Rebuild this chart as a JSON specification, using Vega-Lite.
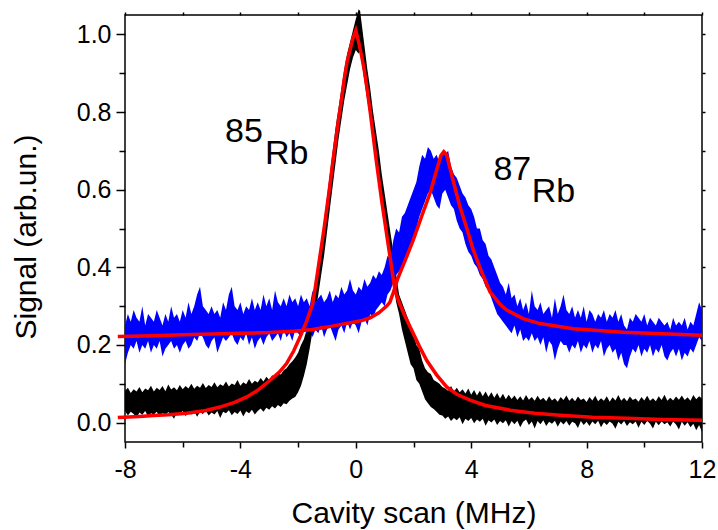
{
"$schema": "https://vega.github.io/schema/vega-lite/v6.json",
"width": 577, "height": 427,
"autosize": {"type": "none"},
"padding": {"left": 125, "top": 15, "right": 16, "bottom": 88},
"background": "white",
"config": {
 "view": {"stroke": "black", "strokeWidth": 1.5},
 "font": "Liberation Sans",
 "axis": {"domain": false, "grid": false, "tickColor": "black", "tickWidth": 1.5, "labelColor": "black", "titleColor": "black", "labelFont": "Liberation Sans", "titleFont": "Liberation Sans", "titleFontWeight": "normal", "labelFlush": false, "labelOverlap": false}
},
"datasets": {
"black": [
{"x":-8.0,"lo":0.030,"hi":0.082},{"x":-7.9,"lo":0.018,"hi":0.090},{"x":-7.8,"lo":0.028,"hi":0.076},{"x":-7.7,"lo":0.022,"hi":0.086},{"x":-7.6,"lo":0.012,"hi":0.080},{"x":-7.5,"lo":0.026,"hi":0.092},{"x":-7.4,"lo":0.020,"hi":0.078},{"x":-7.3,"lo":0.030,"hi":0.088},{"x":-7.2,"lo":0.016,"hi":0.083},{"x":-7.1,"lo":0.024,"hi":0.095},
{"x":-7.0,"lo":0.021,"hi":0.080},{"x":-6.9,"lo":0.028,"hi":0.090},{"x":-6.8,"lo":0.014,"hi":0.084},{"x":-6.7,"lo":0.025,"hi":0.094},{"x":-6.6,"lo":0.019,"hi":0.081},{"x":-6.5,"lo":0.027,"hi":0.098},{"x":-6.4,"lo":0.020,"hi":0.085},{"x":-6.3,"lo":0.010,"hi":0.091},{"x":-6.2,"lo":0.026,"hi":0.083},{"x":-6.1,"lo":0.022,"hi":0.097},
{"x":-6.0,"lo":0.030,"hi":0.086},{"x":-5.9,"lo":0.017,"hi":0.094},{"x":-5.8,"lo":0.025,"hi":0.088},{"x":-5.7,"lo":0.021,"hi":0.100},{"x":-5.6,"lo":0.029,"hi":0.087},{"x":-5.5,"lo":0.015,"hi":0.095},{"x":-5.4,"lo":0.027,"hi":0.090},{"x":-5.3,"lo":0.022,"hi":0.102},{"x":-5.2,"lo":0.031,"hi":0.089},{"x":-5.1,"lo":0.018,"hi":0.097},
{"x":-5.0,"lo":0.026,"hi":0.092},{"x":-4.9,"lo":0.021,"hi":0.104},{"x":-4.8,"lo":0.030,"hi":0.091},{"x":-4.7,"lo":0.012,"hi":0.099},{"x":-4.6,"lo":0.028,"hi":0.094},{"x":-4.5,"lo":0.024,"hi":0.106},{"x":-4.4,"lo":0.032,"hi":0.093},{"x":-4.3,"lo":0.019,"hi":0.101},{"x":-4.2,"lo":0.027,"hi":0.097},{"x":-4.1,"lo":0.022,"hi":0.110},
{"x":-4.0,"lo":0.031,"hi":0.095},{"x":-3.9,"lo":0.016,"hi":0.104},{"x":-3.8,"lo":0.029,"hi":0.099},{"x":-3.7,"lo":0.024,"hi":0.112},{"x":-3.6,"lo":0.033,"hi":0.100},{"x":-3.5,"lo":0.021,"hi":0.108},{"x":-3.4,"lo":0.030,"hi":0.103},{"x":-3.3,"lo":0.036,"hi":0.115},{"x":-3.2,"lo":0.028,"hi":0.106},{"x":-3.1,"lo":0.038,"hi":0.118},
{"x":-3.0,"lo":0.033,"hi":0.110},{"x":-2.9,"lo":0.042,"hi":0.122},{"x":-2.8,"lo":0.036,"hi":0.117},{"x":-2.7,"lo":0.045,"hi":0.128},{"x":-2.6,"lo":0.040,"hi":0.124},{"x":-2.5,"lo":0.050,"hi":0.135},{"x":-2.4,"lo":0.047,"hi":0.140},{"x":-2.3,"lo":0.056,"hi":0.150},{"x":-2.2,"lo":0.062,"hi":0.158},{"x":-2.1,"lo":0.066,"hi":0.168},
{"x":-2.0,"lo":0.078,"hi":0.180},{"x":-1.9,"lo":0.095,"hi":0.200},{"x":-1.8,"lo":0.120,"hi":0.215},{"x":-1.7,"lo":0.150,"hi":0.240},{"x":-1.6,"lo":0.190,"hi":0.275},{"x":-1.5,"lo":0.235,"hi":0.310},{"x":-1.4,"lo":0.280,"hi":0.360},{"x":-1.3,"lo":0.330,"hi":0.410},{"x":-1.2,"lo":0.380,"hi":0.460},{"x":-1.1,"lo":0.430,"hi":0.520},
{"x":-1.0,"lo":0.490,"hi":0.580},{"x":-0.9,"lo":0.550,"hi":0.640},{"x":-0.8,"lo":0.610,"hi":0.700},{"x":-0.7,"lo":0.670,"hi":0.760},{"x":-0.6,"lo":0.730,"hi":0.810},{"x":-0.5,"lo":0.780,"hi":0.860},{"x":-0.4,"lo":0.830,"hi":0.910},{"x":-0.3,"lo":0.870,"hi":0.950},{"x":-0.2,"lo":0.910,"hi":0.980},{"x":-0.1,"lo":0.940,"hi":1.010},
{"x":0.0,"lo":0.960,"hi":1.040},{"x":0.1,"lo":0.950,"hi":1.065},{"x":0.15,"lo":0.970,"hi":1.060},{"x":0.2,"lo":0.930,"hi":1.030},{"x":0.3,"lo":0.880,"hi":0.970},{"x":0.4,"lo":0.830,"hi":0.910},{"x":0.5,"lo":0.780,"hi":0.860},{"x":0.6,"lo":0.720,"hi":0.800},{"x":0.7,"lo":0.670,"hi":0.750},{"x":0.8,"lo":0.620,"hi":0.700},{"x":0.9,"lo":0.560,"hi":0.640},
{"x":1.0,"lo":0.510,"hi":0.590},{"x":1.1,"lo":0.460,"hi":0.540},{"x":1.2,"lo":0.410,"hi":0.490},{"x":1.3,"lo":0.360,"hi":0.440},{"x":1.4,"lo":0.310,"hi":0.380},{"x":1.5,"lo":0.280,"hi":0.330},{"x":1.6,"lo":0.240,"hi":0.310},{"x":1.7,"lo":0.210,"hi":0.290},{"x":1.8,"lo":0.180,"hi":0.270},{"x":1.9,"lo":0.150,"hi":0.250},
{"x":2.0,"lo":0.140,"hi":0.230},{"x":2.1,"lo":0.110,"hi":0.200},{"x":2.2,"lo":0.100,"hi":0.190},{"x":2.3,"lo":0.080,"hi":0.160},{"x":2.4,"lo":0.060,"hi":0.140},{"x":2.5,"lo":0.050,"hi":0.130},{"x":2.6,"lo":0.040,"hi":0.125},{"x":2.7,"lo":0.035,"hi":0.110},{"x":2.8,"lo":0.028,"hi":0.105},{"x":2.9,"lo":0.020,"hi":0.100},
{"x":3.0,"lo":0.018,"hi":0.092},{"x":3.1,"lo":0.010,"hi":0.088},{"x":3.2,"lo":0.016,"hi":0.082},{"x":3.3,"lo":0.004,"hi":0.094},{"x":3.4,"lo":0.012,"hi":0.080},{"x":3.5,"lo":0.006,"hi":0.090},{"x":3.6,"lo":0.014,"hi":0.078},{"x":3.7,"lo":-0.004,"hi":0.086},{"x":3.8,"lo":0.010,"hi":0.075},{"x":3.9,"lo":0.004,"hi":0.088},
{"x":4.0,"lo":0.012,"hi":0.072},{"x":4.1,"lo":-0.002,"hi":0.084},{"x":4.2,"lo":0.008,"hi":0.070},{"x":4.3,"lo":0.002,"hi":0.082},{"x":4.4,"lo":0.010,"hi":0.068},{"x":4.5,"lo":-0.008,"hi":0.080},{"x":4.6,"lo":0.006,"hi":0.066},{"x":4.7,"lo":0.000,"hi":0.078},{"x":4.8,"lo":0.008,"hi":0.064},{"x":4.9,"lo":-0.006,"hi":0.076},
{"x":5.0,"lo":0.004,"hi":0.062},{"x":5.1,"lo":-0.002,"hi":0.074},{"x":5.2,"lo":0.006,"hi":0.060},{"x":5.3,"lo":-0.010,"hi":0.072},{"x":5.4,"lo":0.004,"hi":0.061},{"x":5.5,"lo":-0.004,"hi":0.070},{"x":5.6,"lo":0.005,"hi":0.058},{"x":5.7,"lo":-0.012,"hi":0.068},{"x":5.8,"lo":0.002,"hi":0.057},{"x":5.9,"lo":0.008,"hi":0.071},
{"x":6.0,"lo":-0.006,"hi":0.059},{"x":6.1,"lo":0.003,"hi":0.066},{"x":6.2,"lo":-0.015,"hi":0.056},{"x":6.3,"lo":0.004,"hi":0.069},{"x":6.4,"lo":-0.004,"hi":0.058},{"x":6.5,"lo":0.006,"hi":0.064},{"x":6.6,"lo":-0.009,"hi":0.055},{"x":6.7,"lo":0.002,"hi":0.068},{"x":6.8,"lo":-0.003,"hi":0.057},{"x":6.9,"lo":0.005,"hi":0.063},
{"x":7.0,"lo":-0.011,"hi":0.054},{"x":7.1,"lo":0.003,"hi":0.066},{"x":7.2,"lo":-0.005,"hi":0.058},{"x":7.3,"lo":0.004,"hi":0.070},{"x":7.4,"lo":-0.008,"hi":0.056},{"x":7.5,"lo":0.002,"hi":0.064},{"x":7.6,"lo":-0.002,"hi":0.055},{"x":7.7,"lo":-0.014,"hi":0.067},{"x":7.8,"lo":0.004,"hi":0.058},{"x":7.9,"lo":-0.006,"hi":0.062},
{"x":8.0,"lo":0.002,"hi":0.053},{"x":8.1,"lo":-0.009,"hi":0.066},{"x":8.2,"lo":0.003,"hi":0.057},{"x":8.3,"lo":-0.004,"hi":0.069},{"x":8.4,"lo":0.005,"hi":0.055},{"x":8.5,"lo":-0.012,"hi":0.063},{"x":8.6,"lo":0.001,"hi":0.056},{"x":8.7,"lo":-0.006,"hi":0.068},{"x":8.8,"lo":0.003,"hi":0.054},{"x":8.9,"lo":-0.003,"hi":0.065},
{"x":9.0,"lo":-0.016,"hi":0.057},{"x":9.1,"lo":0.002,"hi":0.071},{"x":9.2,"lo":-0.005,"hi":0.056},{"x":9.3,"lo":0.004,"hi":0.064},{"x":9.4,"lo":-0.009,"hi":0.055},{"x":9.5,"lo":0.001,"hi":0.067},{"x":9.6,"lo":-0.004,"hi":0.058},{"x":9.7,"lo":0.003,"hi":0.062},{"x":9.8,"lo":-0.013,"hi":0.054},{"x":9.9,"lo":0.002,"hi":0.066},
{"x":10.0,"lo":-0.006,"hi":0.057},{"x":10.1,"lo":0.004,"hi":0.069},{"x":10.2,"lo":-0.003,"hi":0.056},{"x":10.3,"lo":-0.015,"hi":0.063},{"x":10.4,"lo":0.002,"hi":0.055},{"x":10.5,"lo":-0.007,"hi":0.068},{"x":10.6,"lo":0.003,"hi":0.058},{"x":10.7,"lo":-0.004,"hi":0.072},{"x":10.8,"lo":0.001,"hi":0.056},{"x":10.9,"lo":-0.010,"hi":0.064},
{"x":11.0,"lo":0.003,"hi":0.057},{"x":11.1,"lo":-0.005,"hi":0.067},{"x":11.2,"lo":-0.018,"hi":0.059},{"x":11.3,"lo":0.002,"hi":0.070},{"x":11.4,"lo":-0.008,"hi":0.058},{"x":11.5,"lo":0.001,"hi":0.065},{"x":11.6,"lo":-0.012,"hi":0.056},{"x":11.7,"lo":-0.003,"hi":0.071},{"x":11.8,"lo":-0.020,"hi":0.060},{"x":11.9,"lo":-0.006,"hi":0.068},
{"x":12.0,"lo":-0.024,"hi":0.062}
],
"blue": [
{"x":-8.0,"lo":0.15,"hi":0.25},{"x":-7.9,"lo":0.18,"hi":0.28},{"x":-7.8,"lo":0.20,"hi":0.26},{"x":-7.7,"lo":0.19,"hi":0.29},{"x":-7.6,"lo":0.21,"hi":0.27},{"x":-7.5,"lo":0.18,"hi":0.26},{"x":-7.4,"lo":0.20,"hi":0.30},{"x":-7.3,"lo":0.19,"hi":0.25},{"x":-7.2,"lo":0.21,"hi":0.28},{"x":-7.1,"lo":0.18,"hi":0.27},
{"x":-7.0,"lo":0.20,"hi":0.26},{"x":-6.9,"lo":0.19,"hi":0.29},{"x":-6.8,"lo":0.21,"hi":0.27},{"x":-6.7,"lo":0.17,"hi":0.25},{"x":-6.6,"lo":0.19,"hi":0.28},{"x":-6.5,"lo":0.20,"hi":0.26},{"x":-6.4,"lo":0.21,"hi":0.30},{"x":-6.3,"lo":0.19,"hi":0.27},{"x":-6.2,"lo":0.20,"hi":0.28},{"x":-6.1,"lo":0.18,"hi":0.26},
{"x":-6.0,"lo":0.20,"hi":0.29},{"x":-5.9,"lo":0.21,"hi":0.27},{"x":-5.8,"lo":0.19,"hi":0.31},{"x":-5.7,"lo":0.20,"hi":0.28},{"x":-5.6,"lo":0.22,"hi":0.30},{"x":-5.5,"lo":0.21,"hi":0.33},{"x":-5.4,"lo":0.23,"hi":0.35},{"x":-5.3,"lo":0.22,"hi":0.30},{"x":-5.2,"lo":0.20,"hi":0.29},{"x":-5.1,"lo":0.19,"hi":0.28},
{"x":-5.0,"lo":0.21,"hi":0.30},{"x":-4.9,"lo":0.22,"hi":0.28},{"x":-4.8,"lo":0.18,"hi":0.29},{"x":-4.7,"lo":0.20,"hi":0.27},{"x":-4.6,"lo":0.22,"hi":0.31},{"x":-4.5,"lo":0.21,"hi":0.29},{"x":-4.4,"lo":0.22,"hi":0.33},{"x":-4.3,"lo":0.23,"hi":0.35},{"x":-4.2,"lo":0.21,"hi":0.30},{"x":-4.1,"lo":0.20,"hi":0.29},
{"x":-4.0,"lo":0.22,"hi":0.31},{"x":-3.9,"lo":0.21,"hi":0.28},{"x":-3.8,"lo":0.23,"hi":0.30},{"x":-3.7,"lo":0.20,"hi":0.29},{"x":-3.6,"lo":0.22,"hi":0.32},{"x":-3.5,"lo":0.19,"hi":0.29},{"x":-3.4,"lo":0.21,"hi":0.31},{"x":-3.3,"lo":0.22,"hi":0.29},{"x":-3.2,"lo":0.20,"hi":0.33},{"x":-3.1,"lo":0.22,"hi":0.30},
{"x":-3.0,"lo":0.23,"hi":0.32},{"x":-2.9,"lo":0.21,"hi":0.29},{"x":-2.8,"lo":0.22,"hi":0.34},{"x":-2.7,"lo":0.23,"hi":0.31},{"x":-2.6,"lo":0.21,"hi":0.30},{"x":-2.5,"lo":0.24,"hi":0.32},{"x":-2.4,"lo":0.22,"hi":0.30},{"x":-2.3,"lo":0.23,"hi":0.33},{"x":-2.2,"lo":0.21,"hi":0.31},{"x":-2.1,"lo":0.24,"hi":0.32},
{"x":-2.0,"lo":0.23,"hi":0.30},{"x":-1.9,"lo":0.22,"hi":0.33},{"x":-1.8,"lo":0.24,"hi":0.31},{"x":-1.7,"lo":0.23,"hi":0.32},{"x":-1.6,"lo":0.25,"hi":0.30},{"x":-1.5,"lo":0.22,"hi":0.34},{"x":-1.4,"lo":0.24,"hi":0.31},{"x":-1.3,"lo":0.23,"hi":0.32},{"x":-1.2,"lo":0.25,"hi":0.33},{"x":-1.1,"lo":0.22,"hi":0.31},
{"x":-1.0,"lo":0.24,"hi":0.32},{"x":-0.9,"lo":0.25,"hi":0.34},{"x":-0.8,"lo":0.23,"hi":0.31},{"x":-0.7,"lo":0.21,"hi":0.33},{"x":-0.6,"lo":0.24,"hi":0.32},{"x":-0.5,"lo":0.25,"hi":0.35},{"x":-0.4,"lo":0.23,"hi":0.33},{"x":-0.3,"lo":0.26,"hi":0.34},{"x":-0.2,"lo":0.24,"hi":0.37},{"x":-0.1,"lo":0.26,"hi":0.34},
{"x":0.0,"lo":0.25,"hi":0.33},{"x":0.1,"lo":0.23,"hi":0.35},{"x":0.2,"lo":0.26,"hi":0.34},{"x":0.3,"lo":0.27,"hi":0.37},{"x":0.4,"lo":0.25,"hi":0.35},{"x":0.5,"lo":0.28,"hi":0.36},{"x":0.6,"lo":0.27,"hi":0.38},{"x":0.7,"lo":0.29,"hi":0.37},{"x":0.8,"lo":0.30,"hi":0.39},{"x":0.9,"lo":0.31,"hi":0.38},
{"x":1.0,"lo":0.30,"hi":0.40},{"x":1.1,"lo":0.33,"hi":0.43},{"x":1.2,"lo":0.34,"hi":0.42},{"x":1.3,"lo":0.36,"hi":0.47},{"x":1.4,"lo":0.38,"hi":0.50},{"x":1.5,"lo":0.39,"hi":0.49},{"x":1.6,"lo":0.40,"hi":0.53},{"x":1.7,"lo":0.41,"hi":0.54},{"x":1.8,"lo":0.44,"hi":0.56},{"x":1.9,"lo":0.46,"hi":0.58},
{"x":2.0,"lo":0.47,"hi":0.60},{"x":2.1,"lo":0.50,"hi":0.62},{"x":2.2,"lo":0.53,"hi":0.66},{"x":2.3,"lo":0.55,"hi":0.69},{"x":2.4,"lo":0.57,"hi":0.68},{"x":2.5,"lo":0.59,"hi":0.71},{"x":2.6,"lo":0.60,"hi":0.70},{"x":2.7,"lo":0.58,"hi":0.68},{"x":2.8,"lo":0.56,"hi":0.69},{"x":2.9,"lo":0.55,"hi":0.67},
{"x":3.0,"lo":0.59,"hi":0.70},{"x":3.1,"lo":0.60,"hi":0.69},{"x":3.2,"lo":0.58,"hi":0.70},{"x":3.3,"lo":0.56,"hi":0.66},{"x":3.4,"lo":0.55,"hi":0.64},{"x":3.5,"lo":0.52,"hi":0.63},{"x":3.6,"lo":0.50,"hi":0.61},{"x":3.7,"lo":0.49,"hi":0.59},{"x":3.8,"lo":0.46,"hi":0.58},{"x":3.9,"lo":0.44,"hi":0.56},
{"x":4.0,"lo":0.43,"hi":0.55},{"x":4.1,"lo":0.41,"hi":0.53},{"x":4.2,"lo":0.40,"hi":0.50},{"x":4.3,"lo":0.38,"hi":0.50},{"x":4.4,"lo":0.37,"hi":0.47},{"x":4.5,"lo":0.35,"hi":0.46},{"x":4.6,"lo":0.34,"hi":0.43},{"x":4.7,"lo":0.32,"hi":0.42},{"x":4.8,"lo":0.30,"hi":0.40},{"x":4.9,"lo":0.28,"hi":0.38},
{"x":5.0,"lo":0.27,"hi":0.36},{"x":5.1,"lo":0.26,"hi":0.35},{"x":5.2,"lo":0.25,"hi":0.33},{"x":5.3,"lo":0.24,"hi":0.36},{"x":5.4,"lo":0.23,"hi":0.32},{"x":5.5,"lo":0.25,"hi":0.33},{"x":5.6,"lo":0.22,"hi":0.30},{"x":5.7,"lo":0.24,"hi":0.32},{"x":5.8,"lo":0.21,"hi":0.29},{"x":5.9,"lo":0.22,"hi":0.31},
{"x":6.0,"lo":0.21,"hi":0.28},{"x":6.1,"lo":0.23,"hi":0.34},{"x":6.2,"lo":0.21,"hi":0.30},{"x":6.3,"lo":0.22,"hi":0.29},{"x":6.4,"lo":0.20,"hi":0.31},{"x":6.5,"lo":0.22,"hi":0.28},{"x":6.6,"lo":0.18,"hi":0.29},{"x":6.7,"lo":0.21,"hi":0.30},{"x":6.8,"lo":0.20,"hi":0.27},{"x":6.9,"lo":0.16,"hi":0.32},
{"x":7.0,"lo":0.19,"hi":0.28},{"x":7.1,"lo":0.21,"hi":0.30},{"x":7.2,"lo":0.20,"hi":0.33},{"x":7.3,"lo":0.20,"hi":0.29},{"x":7.4,"lo":0.18,"hi":0.28},{"x":7.5,"lo":0.20,"hi":0.30},{"x":7.6,"lo":0.19,"hi":0.27},{"x":7.7,"lo":0.21,"hi":0.29},{"x":7.8,"lo":0.18,"hi":0.27},{"x":7.9,"lo":0.20,"hi":0.30},
{"x":8.0,"lo":0.19,"hi":0.26},{"x":8.1,"lo":0.21,"hi":0.29},{"x":8.2,"lo":0.18,"hi":0.28},{"x":8.3,"lo":0.20,"hi":0.26},{"x":8.4,"lo":0.19,"hi":0.28},{"x":8.5,"lo":0.21,"hi":0.27},{"x":8.6,"lo":0.17,"hi":0.29},{"x":8.7,"lo":0.19,"hi":0.26},{"x":8.8,"lo":0.20,"hi":0.28},{"x":8.9,"lo":0.18,"hi":0.27},
{"x":9.0,"lo":0.19,"hi":0.29},{"x":9.1,"lo":0.16,"hi":0.26},{"x":9.2,"lo":0.18,"hi":0.28},{"x":9.3,"lo":0.15,"hi":0.25},{"x":9.4,"lo":0.14,"hi":0.24},{"x":9.5,"lo":0.17,"hi":0.27},{"x":9.6,"lo":0.19,"hi":0.26},{"x":9.7,"lo":0.18,"hi":0.28},{"x":9.8,"lo":0.20,"hi":0.27},{"x":9.9,"lo":0.17,"hi":0.26},
{"x":10.0,"lo":0.19,"hi":0.28},{"x":10.1,"lo":0.18,"hi":0.25},{"x":10.2,"lo":0.20,"hi":0.27},{"x":10.3,"lo":0.17,"hi":0.26},{"x":10.4,"lo":0.19,"hi":0.25},{"x":10.5,"lo":0.18,"hi":0.27},{"x":10.6,"lo":0.20,"hi":0.26},{"x":10.7,"lo":0.17,"hi":0.25},{"x":10.8,"lo":0.16,"hi":0.26},{"x":10.9,"lo":0.18,"hi":0.24},
{"x":11.0,"lo":0.19,"hi":0.27},{"x":11.1,"lo":0.17,"hi":0.25},{"x":11.2,"lo":0.19,"hi":0.26},{"x":11.3,"lo":0.16,"hi":0.25},{"x":11.4,"lo":0.18,"hi":0.27},{"x":11.5,"lo":0.17,"hi":0.24},{"x":11.6,"lo":0.19,"hi":0.26},{"x":11.7,"lo":0.18,"hi":0.25},{"x":11.8,"lo":0.20,"hi":0.28},{"x":11.9,"lo":0.22,"hi":0.31},
{"x":12.0,"lo":0.21,"hi":0.29}
],
"r85": [
{"x":-8.25,"y":0.013},{"x":-7.5,"y":0.016},{"x":-7.0,"y":0.018},{"x":-6.5,"y":0.020},{"x":-5.86,"y":0.024},{"x":-5.2,"y":0.031},{"x":-4.71,"y":0.040},{"x":-4.2,"y":0.052},{"x":-3.78,"y":0.066},{"x":-3.4,"y":0.083},{"x":-2.97,"y":0.109},{"x":-2.65,"y":0.130},{"x":-2.4,"y":0.152},{"x":-2.15,"y":0.185},{"x":-1.93,"y":0.221},{"x":-1.7,"y":0.262},{"x":-1.5,"y":0.305},{"x":-1.4,"y":0.35},{"x":-1.3,"y":0.40},{"x":-1.2,"y":0.45},{"x":-1.1,"y":0.50},{"x":-1.0,"y":0.555},{"x":-0.9,"y":0.61},{"x":-0.8,"y":0.67},{"x":-0.7,"y":0.725},{"x":-0.6,"y":0.78},{"x":-0.5,"y":0.83},{"x":-0.4,"y":0.885},{"x":-0.3,"y":0.93},{"x":-0.2,"y":0.96},{"x":-0.1,"y":0.99},{"x":0.0,"y":1.01},{"x":0.1,"y":0.98},{"x":0.2,"y":0.945},{"x":0.3,"y":0.905},{"x":0.4,"y":0.855},{"x":0.5,"y":0.80},{"x":0.6,"y":0.74},{"x":0.7,"y":0.68},{"x":0.8,"y":0.625},{"x":0.9,"y":0.57},{"x":1.0,"y":0.52},{"x":1.1,"y":0.47},{"x":1.2,"y":0.42},{"x":1.3,"y":0.37},{"x":1.36,"y":0.34},{"x":1.5,"y":0.31},{"x":1.7,"y":0.275},{"x":1.88,"y":0.247},{"x":2.2,"y":0.197},{"x":2.46,"y":0.16},{"x":2.8,"y":0.123},{"x":3.15,"y":0.092},{"x":3.5,"y":0.073},{"x":3.96,"y":0.058},{"x":4.5,"y":0.044},{"x":5.35,"y":0.032},{"x":6.2,"y":0.024},{"x":7.08,"y":0.019},{"x":8.2,"y":0.014},{"x":9.39,"y":0.011},{"x":10.6,"y":0.008},{"x":12.0,"y":0.006}
],
"r87": [
{"x":-8.25,"y":0.222},{"x":-7,"y":0.224},{"x":-6,"y":0.226},{"x":-5,"y":0.228},{"x":-4,"y":0.230},{"x":-3,"y":0.232},{"x":-2.05,"y":0.236},{"x":-1.5,"y":0.240},{"x":-1.0,"y":0.246},{"x":-0.5,"y":0.253},{"x":0.0,"y":0.260},{"x":0.26,"y":0.264},{"x":0.5,"y":0.270},{"x":0.8,"y":0.283},{"x":1.07,"y":0.300},{"x":1.18,"y":0.310},{"x":1.3,"y":0.335},{"x":1.45,"y":0.370},{"x":1.75,"y":0.425},{"x":1.99,"y":0.470},{"x":2.3,"y":0.535},{"x":2.57,"y":0.590},{"x":2.8,"y":0.650},{"x":2.95,"y":0.688},{"x":3.05,"y":0.698},{"x":3.15,"y":0.690},{"x":3.35,"y":0.630},{"x":3.61,"y":0.556},{"x":3.85,"y":0.500},{"x":4.07,"y":0.445},{"x":4.35,"y":0.390},{"x":4.65,"y":0.337},{"x":5.0,"y":0.305},{"x":5.23,"y":0.290},{"x":5.8,"y":0.268},{"x":6.38,"y":0.255},{"x":7.54,"y":0.242},{"x":9.27,"y":0.233},{"x":12.0,"y":0.225}
],
"lab": [
{"x":-4.53,"y":0.724,"t":"85"},{"x":-3.15,"y":0.666,"t":"Rb"},{"x":4.77,"y":0.625,"t":"87"},{"x":6.10,"y":0.569,"t":"Rb"}
]
},
"resolve": {"axis": {"x": "independent", "y": "independent"}},
"layer": [
{
 "data": {"name": "black"},
 "mark": {"type": "area", "color": "#000000"},
 "encoding": {
  "x": {"field": "x", "type": "quantitative", "scale": {"domain": [-8, 12], "nice": false, "zero": false},
        "axis": {"orient": "bottom", "values": [-8, -4, 0, 4, 8, 12], "labelExpr": "datum.value < 0 ? '-' + abs(datum.value) : '' + datum.value", "tickSize": 6, "labelFontSize": 25, "labelPadding": 9, "title": "Cavity scan (MHz)", "titleFontSize": 30, "titleX": 288.5, "titleY": 80, "titleBaseline": "alphabetic", "titleAlign": "center"}},
  "y": {"field": "lo", "type": "quantitative", "scale": {"domain": [-0.05, 1.05], "nice": false, "zero": false},
        "axis": {"orient": "left", "values": [0, 0.2, 0.4, 0.6, 0.8, 1.0], "format": ".1f", "tickSize": 9, "labelFontSize": 25, "labelPadding": 5, "title": "Signal (arb.un.)", "titleFontSize": 30, "titleAngle": -90, "titleX": -90, "titleY": 221.5, "titleBaseline": "alphabetic", "titleAlign": "center"}},
  "y2": {"field": "hi"}
 }
},
{
 "data": {"name": "blue"},
 "mark": {"type": "area", "color": "#0000ff"},
 "encoding": {
  "x": {"field": "x", "type": "quantitative", "axis": {"orient": "bottom", "values": [-6, -2, 2, 6, 10], "tickSize": 5, "labels": false, "title": null}},
  "y": {"field": "lo", "type": "quantitative", "axis": {"orient": "left", "values": [0.1, 0.3, 0.5, 0.7, 0.9], "tickSize": 6, "labels": false, "title": null}},
  "y2": {"field": "hi"}
 }
},
{
 "data": {"name": "r85"},
 "mark": {"type": "line", "color": "#ff0000", "strokeWidth": 3.5},
 "encoding": {
  "x": {"field": "x", "type": "quantitative", "axis": {"orient": "top", "values": [-8, -6, -4, -2, 0, 2, 4, 6, 8, 10, 12], "tickSize": 3, "labels": false, "title": null}},
  "y": {"field": "y", "type": "quantitative", "axis": {"orient": "right", "values": [0, 0.1, 0.2, 0.3, 0.4, 0.5, 0.6, 0.7, 0.8, 0.9, 1.0], "tickSize": 3, "labels": false, "title": null}}
 }
},
{
 "data": {"name": "r87"},
 "mark": {"type": "line", "color": "#ff0000", "strokeWidth": 3.5},
 "encoding": {
  "x": {"field": "x", "type": "quantitative", "axis": null},
  "y": {"field": "y", "type": "quantitative", "axis": null}
 }
},
{
 "data": {"name": "lab"},
 "mark": {"type": "text", "font": "Liberation Sans", "fontSize": 34, "align": "left", "baseline": "alphabetic", "color": "black"},
 "encoding": {
  "x": {"field": "x", "type": "quantitative", "axis": null},
  "y": {"field": "y", "type": "quantitative", "axis": null},
  "text": {"field": "t"}
 }
}
]
}
